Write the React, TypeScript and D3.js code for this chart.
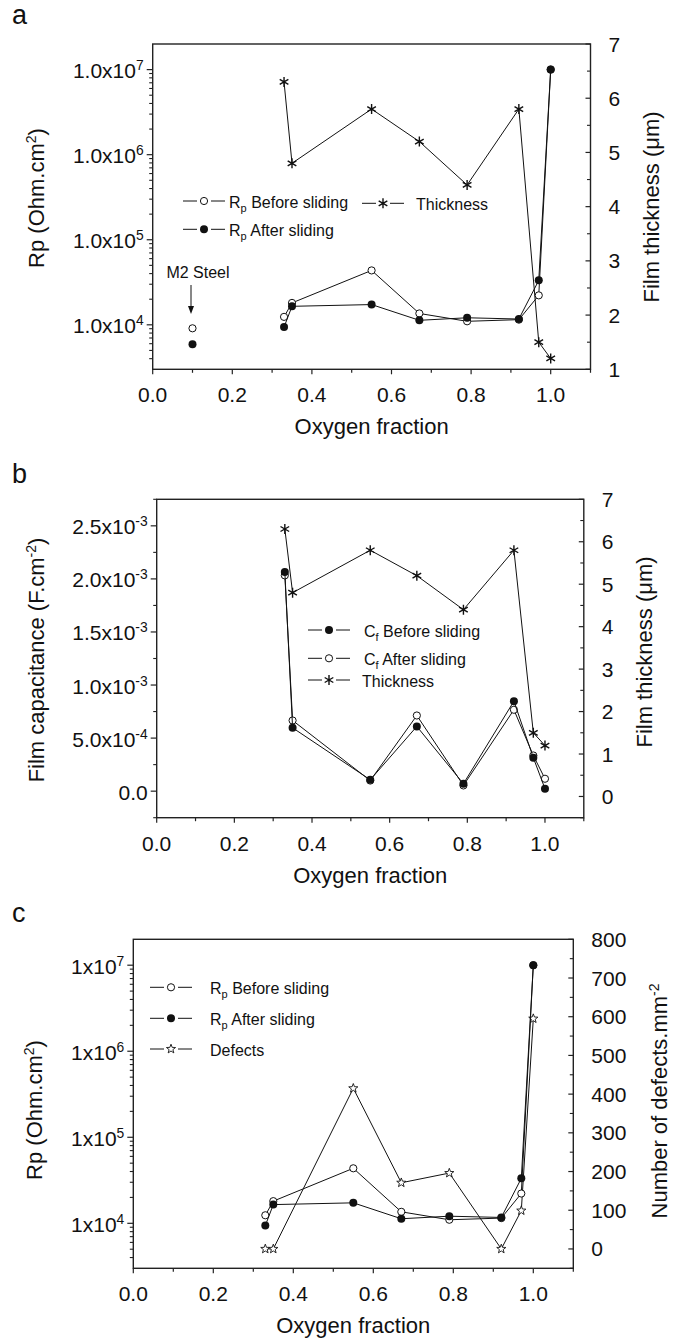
import React from 'react';
import * as d3 from 'd3';

// oxygen fraction of each coating
const oxygen = [0.33, 0.35, 0.55, 0.67, 0.79, 0.92, 0.97, 1.0];
const rpBefore = [1.24e4, 1.81e4, 4.36e4, 1.36e4, 1.1e4, 1.15e4, 2.22e4, 1.0e7];
const rpAfter = [9.4e3, 1.65e4, 1.73e4, 1.13e4, 1.21e4, 1.17e4, 3.33e4, 1.0e7];
const m2Oxygen = [0.1];
const m2Before = [9.1e3];
const m2After = [5.9e3];
const thickness = [6.3, 4.8, 5.8, 5.2, 4.4, 5.8, 1.5, 1.2];
const cfBefore = [2.064e-3, 0.597e-3, 0.107e-3, 0.61e-3, 0.07e-3, 0.848e-3, 0.315e-3, 0.023e-3];
const cfAfter = [2.033e-3, 0.666e-3, 0.1e-3, 0.713e-3, 0.054e-3, 0.767e-3, 0.336e-3, 0.117e-3];
const defects = [0, 0, 415, 171, 196, 0, 99, 595];

// ticks
const xTicks = [0, 0.2, 0.4, 0.6, 0.8, 1.0];
const xTickLabels = ['0.0', '0.2', '0.4', '0.6', '0.8', '1.0'];
const rpTicks = [1e4, 1e5, 1e6, 1e7];
const rpLabelsA = [['1.0x10', '4'], ['1.0x10', '5'], ['1.0x10', '6'], ['1.0x10', '7']];
const rpLabelsC = [['1x10', '4'], ['1x10', '5'], ['1x10', '6'], ['1x10', '7']];
const cfTicks = [0, 5e-4, 1e-3, 1.5e-3, 2e-3, 2.5e-3];
const cfLabels = [['0.0', ''], ['5.0x10', '-4'], ['1.0x10', '-3'], ['1.5x10', '-3'], ['2.0x10', '-3'], ['2.5x10', '-3']];
const thickTicksA = [1, 2, 3, 4, 5, 6, 7];
const thickTicksB = [0, 1, 2, 3, 4, 5, 6, 7];
const defectTicks = [0, 100, 200, 300, 400, 500, 600, 700, 800];

const FONT = '"Liberation Sans", Arial, Helvetica, sans-serif';
const TICK = 21;
const TITLE = 22;
const LEG = 16;

type Box = { l: number; r: number; t: number; b: number };
const boxA: Box = { l: 152.7, r: 590.5, t: 44, b: 369.3 };
const boxB: Box = { l: 156.7, r: 583.8, t: 499.3, b: 817.7 };
const boxC: Box = { l: 133.3, r: 573.3, t: 939.3, b: 1268.3 };

const xA = d3.scaleLinear().domain([0, 1.1]).range([boxA.l, boxA.r]);
const yA = d3.scaleLog().domain([3000, 2e7]).range([boxA.b, boxA.t]);
const yAR = d3.scaleLinear().domain([1, 7]).range([boxA.b, boxA.t]);
const xB = d3.scaleLinear().domain([0, 1.1]).range([boxB.l, boxB.r]);
const yB = d3.scaleLinear().domain([-2.5e-4, 2.75e-3]).range([boxB.b, boxB.t]);
const yBR = d3.scaleLinear().domain([-0.5, 7]).range([boxB.b, boxB.t]);
const xC = d3.scaleLinear().domain([0, 1.1]).range([boxC.l, boxC.r]);
const yC = d3.scaleLog().domain([3000, 2e7]).range([boxC.b, boxC.t]);
const yCR = d3.scaleLinear().domain([-50, 800]).range([boxC.b, boxC.t]);

const astPath = (r: number) =>
  `M0,${-r}V${r}M${-r * 0.866},${-r / 2}L${r * 0.866},${r / 2}M${-r * 0.866},${r / 2}L${r * 0.866},${-r / 2}`;

const starPath = (() => {
  const pts: string[] = [];
  for (let i = 0; i < 10; i++) {
    const rad = i % 2 === 0 ? 4.8 : 2.0;
    const a = -Math.PI / 2 + (i * Math.PI) / 5;
    pts.push(`${(rad * Math.cos(a)).toFixed(2)},${(rad * Math.sin(a)).toFixed(2)}`);
  }
  return 'M' + pts.join('L') + 'Z';
})();

type Kind = 'open' | 'filled' | 'ast' | 'star';

function Marker({ kind, x, y }: { kind: Kind; x: number; y: number }) {
  if (kind === 'open') return <circle cx={x} cy={y} r={3.6} fill="#fff" stroke="#111" strokeWidth={1} />;
  if (kind === 'filled') return <circle cx={x} cy={y} r={4} fill="#111" />;
  if (kind === 'ast') return <path d={astPath(5)} transform={`translate(${x},${y})`} stroke="#111" strokeWidth={1.4} fill="none" />;
  return <path d={starPath} transform={`translate(${x},${y})`} stroke="#111" strokeWidth={0.9} fill="#fff" />;
}

function Series({ xs, ys, x, y, kind, line = true }: any) {
  const gen = d3.line<number>().x((_, i) => x(xs[i])).y((d) => y(d));
  return (
    <g>
      {line && <path d={gen(ys) || ''} fill="none" stroke="#111" strokeWidth={1} />}
      {ys.map((d: number, i: number) => (
        <Marker key={i} kind={kind} x={x(xs[i])} y={y(d)} />
      ))}
    </g>
  );
}

function Sup({ x, y, base, exp, anchor = 'end', size = TICK }: any) {
  return (
    <text x={x} y={y} textAnchor={anchor} fontSize={size}>
      {base}
      {exp ? (
        <tspan dy={-8} fontSize={size * 0.66}>
          {exp}
        </tspan>
      ) : null}
    </text>
  );
}

function Frame({ box }: { box: Box }) {
  return <rect x={box.l} y={box.t} width={box.r - box.l} height={box.b - box.t} fill="none" stroke="#222" strokeWidth={1.4} />;
}

function BottomAxis({ box, x, title }: { box: Box; x: any; title: string }) {
  const minor = d3.range(0.1, 1.1, 0.2);
  return (
    <g>
      {xTicks.map((t) => (
        <line key={'M' + t} x1={x(t)} x2={x(t)} y1={box.b} y2={box.b + 5} stroke="#222" strokeWidth={1.2} />
      ))}
      {minor.map((t) => (
        <line key={'m' + t} x1={x(t)} x2={x(t)} y1={box.b} y2={box.b + 3.5} stroke="#222" strokeWidth={1.2} />
      ))}
      <line x1={x(1.1)} x2={x(1.1)} y1={box.b} y2={box.b + 3.5} stroke="#222" strokeWidth={1.2} />
      {xTicks.map((t, i) => (
        <text key={'l' + t} x={x(t)} y={box.b + 33} textAnchor="middle" fontSize={TICK}>
          {xTickLabels[i]}
        </text>
      ))}
      <text x={(box.l + box.r) / 2} y={box.b + 65} textAnchor="middle" fontSize={TITLE}>
        {title}
      </text>
    </g>
  );
}

function LeftAxis({ box, y, ticks, labels, minor }: any) {
  return (
    <g>
      {ticks.map((t: number) => (
        <line key={'M' + t} x1={box.l - 6} x2={box.l} y1={y(t)} y2={y(t)} stroke="#222" strokeWidth={1.2} />
      ))}
      {minor.map((t: number) => (
        <line key={'m' + t} x1={box.l - 3.5} x2={box.l} y1={y(t)} y2={y(t)} stroke="#222" strokeWidth={1.1} />
      ))}
      {ticks.map((t: number, i: number) => (
        <Sup key={'l' + t} x={box.l - 9} y={y(t) + 8.5} base={labels[i][0]} exp={labels[i][1]} />
      ))}
    </g>
  );
}

function RightAxis({ box, y, ticks, minor }: any) {
  return (
    <g>
      {ticks.map((t: number) => (
        <line key={'M' + t} x1={box.r - 5} x2={box.r} y1={y(t)} y2={y(t)} stroke="#222" strokeWidth={1.2} />
      ))}
      {minor.map((t: number) => (
        <line key={'m' + t} x1={box.r - 3.5} x2={box.r} y1={y(t)} y2={y(t)} stroke="#222" strokeWidth={1.1} />
      ))}
      {ticks.map((t: number) => (
        <text key={'l' + t} x={box.r + 18} y={y(t) + 7.5} fontSize={TICK}>
          {t}
        </text>
      ))}
    </g>
  );
}

function VTitle({ x, y, children }: any) {
  return (
    <text transform={`translate(${x},${y}) rotate(-90)`} textAnchor="middle" fontSize={TITLE}>
      {children}
    </text>
  );
}

function LegendItem({ x, y, kind, children, tx }: any) {
  return (
    <g>
      <line x1={x} x2={x + 14} y1={y} y2={y} stroke="#111" strokeWidth={1} />
      <line x1={x + 28} x2={x + 42} y1={y} y2={y} stroke="#111" strokeWidth={1} />
      <Marker kind={kind} x={x + 21} y={y} />
      <text x={tx} y={y + 6.5} fontSize={LEG}>
        {children}
      </text>
    </g>
  );
}

const Sub = ({ s }: { s: string }) => (
  <>
    <tspan dy={4} fontSize={11}>
      {s}
    </tspan>
    <tspan dy={-4}> </tspan>
  </>
);

const logMinor = (y: any) => {
  const [lo, hi] = y.domain();
  return y.ticks().filter((t: number) => t > lo && t < hi && !rpTicks.includes(t));
};

export default function App() {
  const thickMinorA = d3.range(1.5, 7, 1);
  const thickMinorB = d3.range(-0.5, 7, 1);
  const cfMinor = d3.range(-2.5e-4, 2.76e-3, 5e-4);
  const defectMinor = d3.range(-50, 800, 100);

  return (
    <svg width={673} height={1339} style={{ position: 'absolute', left: 0, top: 0, background: '#fff' }} fontFamily={FONT} fill="#111">
      <rect width={673} height={1339} fill="#fff" />

      {/* panel a */}
      <text x={12} y={23.5} fontSize={27}>a</text>
      <Frame box={boxA} />
      <BottomAxis box={boxA} x={xA} title="Oxygen fraction" />
      <LeftAxis box={boxA} y={yA} ticks={rpTicks} labels={rpLabelsA} minor={logMinor(yA)} />
      <RightAxis box={boxA} y={yAR} ticks={thickTicksA} minor={thickMinorA} />
      <VTitle x={44} y={198}>
        Rp (Ohm.cm<tspan dy={-8} fontSize={14}>2</tspan><tspan dy={8}>)</tspan>
      </VTitle>
      <VTitle x={659} y={207}>Film thickness (μm)</VTitle>
      <Series xs={oxygen} ys={thickness} x={xA} y={yAR} kind="ast" />
      <Series xs={oxygen} ys={rpBefore} x={xA} y={yA} kind="open" />
      <Series xs={oxygen} ys={rpAfter} x={xA} y={yA} kind="filled" />
      <Series xs={m2Oxygen} ys={m2Before} x={xA} y={yA} kind="open" line={false} />
      <Series xs={m2Oxygen} ys={m2After} x={xA} y={yA} kind="filled" line={false} />
      <text x={198} y={278} textAnchor="middle" fontSize={LEG}>M2 Steel</text>
      <line x1={191} x2={191} y1={285} y2={308} stroke="#111" strokeWidth={1} />
      <path d="M188,306L194,306L191,314Z" fill="#111" />
      <LegendItem x={183} y={201} kind="open" tx={229}>
        R<Sub s="p" />Before sliding
      </LegendItem>
      <LegendItem x={183} y={229.3} kind="filled" tx={229}>
        R<Sub s="p" />After sliding
      </LegendItem>
      <LegendItem x={362} y={203.3} kind="ast" tx={416}>
        Thickness
      </LegendItem>

      {/* panel b */}
      <text x={12} y={483} fontSize={27}>b</text>
      <Frame box={boxB} />
      <BottomAxis box={boxB} x={xB} title="Oxygen fraction" />
      <LeftAxis box={boxB} y={yB} ticks={cfTicks} labels={cfLabels} minor={cfMinor} />
      <RightAxis box={boxB} y={yBR} ticks={thickTicksB} minor={thickMinorB} />
      <VTitle x={44} y={660}>
        Film capacitance (F.cm<tspan dy={-8} fontSize={14}>-2</tspan><tspan dy={8}>)</tspan>
      </VTitle>
      <VTitle x={652} y={652}>Film thickness (μm)</VTitle>
      <Series xs={oxygen} ys={thickness} x={xB} y={yBR} kind="ast" />
      <Series xs={oxygen} ys={cfAfter} x={xB} y={yB} kind="open" />
      <Series xs={oxygen} ys={cfBefore} x={xB} y={yB} kind="filled" />
      <LegendItem x={308} y={630} kind="filled" tx={364}>
        C<Sub s="f" />Before sliding
      </LegendItem>
      <LegendItem x={308} y={658.3} kind="open" tx={364}>
        C<Sub s="f" />After sliding
      </LegendItem>
      <LegendItem x={308} y={680} kind="ast" tx={362}>
        Thickness
      </LegendItem>

      {/* panel c */}
      <text x={12} y={921.7} fontSize={27}>c</text>
      <Frame box={boxC} />
      <BottomAxis box={boxC} x={xC} title="Oxygen fraction" />
      <LeftAxis box={boxC} y={yC} ticks={rpTicks} labels={rpLabelsC} minor={logMinor(yC)} />
      <RightAxis box={boxC} y={yCR} ticks={defectTicks} minor={defectMinor} />
      <VTitle x={42} y={1110}>
        Rp (Ohm.cm<tspan dy={-8} fontSize={14}>2</tspan><tspan dy={8}>)</tspan>
      </VTitle>
      <VTitle x={667} y={1101}>
        Number of defects.mm<tspan dy={-8} fontSize={14}>-2</tspan>
      </VTitle>
      <Series xs={oxygen} ys={defects} x={xC} y={yCR} kind="star" />
      <Series xs={oxygen} ys={rpBefore} x={xC} y={yC} kind="open" />
      <Series xs={oxygen} ys={rpAfter} x={xC} y={yC} kind="filled" />
      <LegendItem x={150} y={987.3} kind="open" tx={210}>
        R<Sub s="p" />Before sliding
      </LegendItem>
      <LegendItem x={150} y={1018.3} kind="filled" tx={210}>
        R<Sub s="p" />After sliding
      </LegendItem>
      <LegendItem x={150} y={1049} kind="star" tx={210}>
        Defects
      </LegendItem>
    </svg>
  );
}
